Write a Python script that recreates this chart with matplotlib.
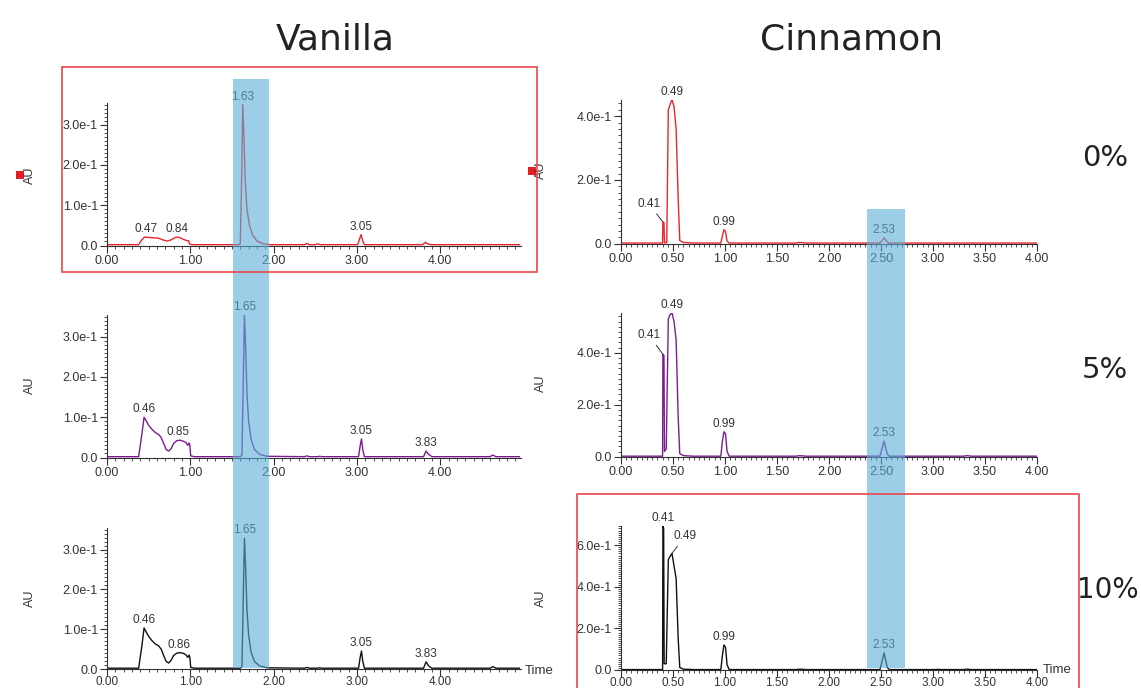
import numpy as np
import matplotlib
matplotlib.use("Agg")
import matplotlib.pyplot as plt
import matplotlib.transforms as mtransforms
from matplotlib.patches import Rectangle
from matplotlib.ticker import MultipleLocator, FixedLocator, FixedFormatter

plt.rcParams['font.family'] = ['Liberation Sans', 'DejaVu Sans']

W, H = 1141, 688

# ---- chromatogram traces: (time [min], absorbance [AU]) ----
vanilla_0 = [(0.00, 0.002), (0.38, 0.002), (0.41, 0.012), (0.45, 0.021), (0.50, 0.020), (0.56, 0.019),
             (0.62, 0.018), (0.67, 0.014), (0.72, 0.011), (0.77, 0.014), (0.81, 0.019), (0.84, 0.021),
             (0.88, 0.019), (0.92, 0.015), (0.96, 0.012), (0.98, 0.012), (0.99, 0.004), (1.02, 0.002),
             (1.58, 0.002), (1.60, 0.004), (1.615, 0.150), (1.63, 0.350), (1.645, 0.260), (1.66, 0.160),
             (1.68, 0.090), (1.71, 0.050), (1.75, 0.025), (1.80, 0.011), (1.88, 0.004), (1.96, 0.002),
             (2.37, 0.002), (2.40, 0.005), (2.43, 0.002), (2.50, 0.002), (2.53, 0.004), (2.56, 0.002),
             (3.01, 0.002), (3.03, 0.015), (3.05, 0.027), (3.07, 0.012), (3.09, 0.002), (3.79, 0.002),
             (3.82, 0.008), (3.85, 0.004), (3.89, 0.002), (4.95, 0.002)]

vanilla_5 = [(0.00, 0.002), (0.38, 0.002), (0.42, 0.060), (0.445, 0.100), (0.46, 0.095), (0.50, 0.080),
             (0.54, 0.070), (0.58, 0.062), (0.62, 0.057), (0.65, 0.050), (0.68, 0.035), (0.71, 0.020),
             (0.74, 0.016), (0.77, 0.022), (0.80, 0.035), (0.84, 0.042), (0.88, 0.043), (0.92, 0.040),
             (0.95, 0.037), (0.97, 0.030), (0.985, 0.036), (0.995, 0.030), (1.005, 0.004), (1.05, 0.002),
             (1.60, 0.002), (1.62, 0.006), (1.635, 0.180), (1.65, 0.354), (1.665, 0.270), (1.68, 0.160),
             (1.70, 0.090), (1.73, 0.045), (1.77, 0.020), (1.83, 0.008), (1.92, 0.003), (2.37, 0.002),
             (2.40, 0.004), (2.43, 0.002), (2.53, 0.002), (2.55, 0.003), (2.58, 0.002), (3.02, 0.002),
             (3.04, 0.030), (3.055, 0.046), (3.07, 0.020), (3.09, 0.002), (3.80, 0.002), (3.83, 0.016),
             (3.86, 0.008), (3.90, 0.002), (4.60, 0.002), (4.63, 0.006), (4.67, 0.002), (4.95, 0.002)]

vanilla_10 = [(0.00, 0.002), (0.38, 0.002), (0.42, 0.060), (0.445, 0.103), (0.46, 0.097), (0.50, 0.082),
              (0.54, 0.071), (0.58, 0.063), (0.62, 0.058), (0.65, 0.050), (0.68, 0.034), (0.71, 0.019),
              (0.74, 0.015), (0.77, 0.022), (0.80, 0.034), (0.84, 0.040), (0.88, 0.041), (0.92, 0.039),
              (0.95, 0.035), (0.97, 0.029), (0.985, 0.035), (0.995, 0.029), (1.005, 0.004), (1.05, 0.002),
              (1.60, 0.002), (1.62, 0.006), (1.635, 0.170), (1.65, 0.328), (1.665, 0.250), (1.68, 0.150),
              (1.70, 0.085), (1.73, 0.042), (1.77, 0.019), (1.83, 0.008), (1.92, 0.003), (2.37, 0.002),
              (2.40, 0.004), (2.43, 0.002), (2.53, 0.002), (2.55, 0.003), (2.58, 0.002), (3.02, 0.002),
              (3.04, 0.030), (3.055, 0.045), (3.07, 0.020), (3.09, 0.002), (3.80, 0.002), (3.83, 0.018),
              (3.86, 0.008), (3.90, 0.002), (4.60, 0.002), (4.63, 0.006), (4.67, 0.002), (4.95, 0.002)]

cinnamon_0 = [(0.00, 0.002), (0.40, 0.002), (0.403, 0.068), (0.413, 0.066), (0.418, 0.003), (0.44, 0.003),
              (0.455, 0.420), (0.47, 0.435), (0.49, 0.452), (0.51, 0.430), (0.53, 0.360), (0.55, 0.140),
              (0.565, 0.010), (0.60, 0.004), (0.70, 0.002), (0.96, 0.002), (0.975, 0.025), (0.99, 0.044),
              (1.005, 0.038), (1.02, 0.008), (1.04, 0.002), (1.68, 0.002), (1.72, 0.004), (1.78, 0.002),
              (2.49, 0.002), (2.53, 0.018), (2.57, 0.002), (4.00, 0.002)]

cinnamon_5 = [(0.00, 0.002), (0.40, 0.002), (0.403, 0.394), (0.413, 0.390), (0.418, 0.020), (0.435, 0.030),
              (0.455, 0.530), (0.47, 0.545), (0.49, 0.554), (0.51, 0.520), (0.53, 0.450), (0.55, 0.150),
              (0.565, 0.012), (0.60, 0.004), (0.70, 0.002), (0.96, 0.002), (0.975, 0.060), (0.99, 0.096),
              (1.005, 0.088), (1.02, 0.020), (1.04, 0.002), (1.68, 0.002), (1.72, 0.004), (1.78, 0.002),
              (2.49, 0.002), (2.53, 0.060), (2.56, 0.010), (2.58, 0.002), (3.29, 0.002), (3.33, 0.004),
              (3.37, 0.002), (4.00, 0.002)]

cinnamon_10 = [(0.00, 0.002), (0.40, 0.002), (0.403, 0.690), (0.410, 0.680), (0.415, 0.030), (0.435, 0.030),
               (0.455, 0.530), (0.47, 0.545), (0.49, 0.560), (0.51, 0.500), (0.53, 0.440), (0.55, 0.150),
               (0.565, 0.012), (0.60, 0.004), (0.70, 0.002), (0.96, 0.002), (0.975, 0.070), (0.99, 0.120),
               (1.005, 0.110), (1.02, 0.025), (1.04, 0.002), (1.68, 0.002), (1.72, 0.004), (1.78, 0.002),
               (2.49, 0.002), (2.53, 0.082), (2.56, 0.012), (2.58, 0.002), (3.02, 0.002), (3.05, 0.003),
               (3.08, 0.002), (3.29, 0.002), (3.33, 0.004), (3.37, 0.002), (4.00, 0.002)]

# peak labels: (text, time, height)
vanilla_0_peaks = [("0.47", 0.47, 0.021), ("0.84", 0.84, 0.021), ("1.63", 1.63, 0.350), ("3.05", 3.05, 0.027)]
vanilla_5_peaks = [("0.46", 0.45, 0.100), ("0.85", 0.85, 0.043), ("1.65", 1.65, 0.354),
                   ("3.05", 3.05, 0.046), ("3.83", 3.83, 0.016)]
vanilla_10_peaks = [("0.46", 0.45, 0.103), ("0.86", 0.86, 0.041), ("1.65", 1.65, 0.328),
                    ("3.05", 3.05, 0.045), ("3.83", 3.83, 0.018)]
cinnamon_0_peaks = [("0.49", 0.49, 0.452), ("0.99", 0.99, 0.044), ("2.53", 2.53, 0.018)]
cinnamon_5_peaks = [("0.49", 0.49, 0.554), ("0.99", 0.99, 0.096), ("2.53", 2.53, 0.060)]
cinnamon_10_peaks = [("0.41", 0.405, 0.690), ("0.99", 0.99, 0.120), ("2.53", 2.53, 0.082)]

vanilla_yticks = [0.0, 0.1, 0.2, 0.3]
vanilla_ylabels = ["0.0", "1.0e-1", "2.0e-1", "3.0e-1"]
cinnamon_yticks = [0.0, 0.2, 0.4, 0.6]
cinnamon_ylabels = ["0.0", "2.0e-1", "4.0e-1", "6.0e-1"]
vanilla_xticks = [0, 1, 2, 3, 4]
cinnamon_xticks = [0, 0.5, 1, 1.5, 2, 2.5, 3, 3.5, 4]

columns = ["Vanilla", "Cinnamon"]
rows = ["0%", "5%", "10%"]

RED = "#e8262b"
PURPLE = "#7b1d8e"
BLACK = "#111111"
BAND = "#5aaed9"
FRAME = "#e8474c"
INK = "#333333"

fig = plt.figure(figsize=(W / 100, H / 100), dpi=100)


def px_axes(x0, y0, x1, y1):
    return fig.add_axes([x0 / W, 1 - y1 / H, (x1 - x0) / W, (y1 - y0) / H])


def style(ax, xmax, ymax, xticks, xminor, yticks, ylabels, yminor):
    ax.set_xlim(0, xmax)
    ax.set_ylim(0, ymax)
    for s in ("top", "right"):
        ax.spines[s].set_visible(False)
    for s in ("left", "bottom"):
        ax.spines[s].set_color(INK)
        ax.spines[s].set_linewidth(0.8)
    ax.xaxis.set_major_locator(FixedLocator(xticks))
    ax.xaxis.set_major_formatter(FixedFormatter([f"{v:.2f}" for v in xticks]))
    ax.xaxis.set_minor_locator(MultipleLocator(xminor))
    ax.yaxis.set_major_locator(FixedLocator(yticks))
    ax.yaxis.set_major_formatter(FixedFormatter(ylabels))
    ax.yaxis.set_minor_locator(MultipleLocator(yminor))
    ax.tick_params(which="major", length=5, width=0.8, color=INK, labelcolor=INK, labelsize=9, pad=1.5)
    ax.tick_params(which="minor", length=2.5, width=0.6, color=INK)
    ax.patch.set_alpha(0)


def trace(ax, data, color):
    t, a = np.array(data).T
    ax.plot(t, a, color=color, lw=1.0, zorder=2)


def peak_labels(ax, peaks):
    for text, t, h in peaks:
        ax.annotate(text, xy=(t, h), xytext=(0, 2), textcoords="offset pixels",
                    ha="center", va="bottom", fontsize=8.5, color=INK, annotation_clip=False)


def leader(ax, text, t, h, dx, dy):
    ax.annotate(text, xy=(t, h), xytext=(dx, dy), textcoords="offset pixels",
                ha="center", va="center", fontsize=8.5, color=INK, annotation_clip=False,
                arrowprops=dict(arrowstyle="-", lw=0.7, color=INK, shrinkA=1, shrinkB=0))


# vanilla column
v_rows = [(103, 245.5, vanilla_0, RED, vanilla_0_peaks),
          (315, 457.5, vanilla_5, PURPLE, vanilla_5_peaks),
          (528, 669, vanilla_10, BLACK, vanilla_10_peaks)]
v_axes = []
for top, bottom, data, color, peaks in v_rows:
    ax = px_axes(107, top, 521, bottom)
    style(ax, 4.97, 0.354, vanilla_xticks, 0.1, vanilla_yticks, vanilla_ylabels, 0.01)
    trace(ax, data, color)
    peak_labels(ax, peaks)
    v_axes.append(ax)

# cinnamon column
c_rows = [(99.5, 243.7, 0.4525, cinnamon_0, RED, cinnamon_0_peaks, 0.02),
          (312.7, 456.7, 0.554, cinnamon_5, PURPLE, cinnamon_5_peaks, 0.02),
          (526, 670, 0.692, cinnamon_10, BLACK, cinnamon_10_peaks, 0.01)]
c_axes = []
for top, bottom, ymax, data, color, peaks, yminor in c_rows:
    ax = px_axes(621, top, 1037, bottom)
    style(ax, 4.0, ymax, cinnamon_xticks, 0.05, cinnamon_yticks, cinnamon_ylabels, yminor)
    trace(ax, data, color)
    peak_labels(ax, peaks)
    c_axes.append(ax)

# bottom row sits right at the figure edge: tuck its tick labels up
for ax in (v_axes[2], c_axes[2]):
    ax.tick_params(axis="x", which="major", pad=0, labelsize=8.5)

leader(c_axes[0], "0.41", cinnamon_0[2][0], cinnamon_0[2][1], -14, 18)
leader(c_axes[1], "0.41", cinnamon_5[2][0], cinnamon_5[2][1], -14, 19)
leader(c_axes[2], "0.49", cinnamon_10[8][0], cinnamon_10[8][1], 13, 17)

# highlighted retention windows, spanning the stacked panels
for ax, (t0, t1), y_top in [(v_axes[0], (1.51, 1.95), 79), (c_axes[0], (2.37, 2.73), 209)]:
    tr = mtransforms.blended_transform_factory(ax.transData, fig.transFigure)
    fig.patches.append(Rectangle((t0, 1 - 668 / H), t1 - t0, (668 - y_top) / H,
                                 transform=tr, facecolor=BAND, alpha=0.6, lw=0, zorder=5))

# red frames
fig.patches.append(Rectangle((62 / W, 1 - 272 / H), (537 - 62) / W, (272 - 67) / H,
                             transform=fig.transFigure, fill=False, edgecolor=FRAME, lw=1.2, zorder=6))
fig.patches.append(Rectangle((577 / W, 1 - 700 / H), (1079 - 577) / W, (700 - 494) / H,
                             transform=fig.transFigure, fill=False, edgecolor=FRAME, lw=1.2, zorder=6))

# axis titles
for x, ys in [(30, (175, 385, 598)), (541, (170, 383, 598))]:
    for y in ys:
        fig.text(x / W, 1 - y / H, "AU", rotation=90, ha="center", va="center", fontsize=9, color=INK)
for x in (20, 532):
    y = 175 if x == 20 else 171
    fig.patches.append(Rectangle(((x - 4) / W, 1 - (y + 4) / H), 8 / W, 8 / H,
                                 transform=fig.transFigure, facecolor="#e51e25", lw=0))
fig.text(525 / W, 1 - 671 / H, "Time", ha="left", va="center", fontsize=9.5, color=INK)
fig.text(1043 / W, 1 - 670 / H, "Time", ha="left", va="center", fontsize=9.5, color=INK)

# column and row headings
for name, x in zip(columns, (335, 852)):
    fig.text(x / W, 1 - 40 / H, name, ha="center", va="center", fontsize=26,
             family="DejaVu Sans", color="#222222")
for name, x, y in zip(rows, (1082, 1082, 1077), (158, 370, 590)):
    fig.text(x / W, 1 - y / H, name, ha="left", va="center", fontsize=21 if name != "10%" else 20,
             family="DejaVu Sans", color="#222222")

fig.savefig("out.png", dpi=100)
